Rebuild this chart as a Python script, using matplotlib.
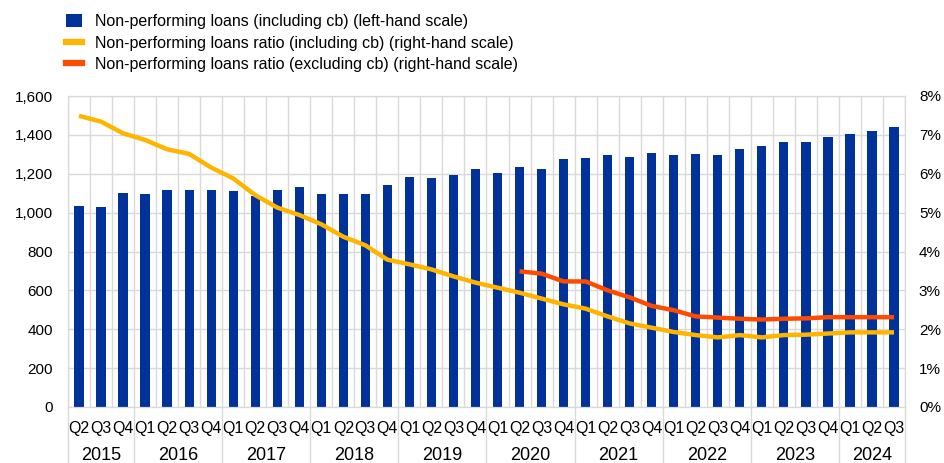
import numpy as np
import matplotlib
matplotlib.use("Agg")
import matplotlib.pyplot as plt
from matplotlib.patches import Patch
from matplotlib.lines import Line2D

plt.rcParams['font.family'] = ['Liberation Sans', 'DejaVu Sans']

years = ['2015', '2016', '2017', '2018', '2019', '2020', '2021', '2022', '2023', '2024']
quarters = ['Q2', 'Q3', 'Q4'] + ['Q1', 'Q2', 'Q3', 'Q4'] * 8 + ['Q1', 'Q2', 'Q3']

# NPLs in EUR bn (left-hand scale)
npl = [1033, 1027, 1102,
       1095, 1116, 1116, 1116,
       1109, 1085, 1116, 1130,
       1095, 1095, 1095, 1143,
       1185, 1178, 1191, 1226,
       1205, 1233, 1226, 1274,
       1281, 1294, 1288, 1308,
       1294, 1301, 1294, 1329,
       1342, 1363, 1363, 1391,
       1404, 1418, 1439]

# NPL ratio including cb (%)
ratio_incl = [7.49, 7.34, 7.04,
              6.87, 6.63, 6.51, 6.16,
              5.88, 5.45, 5.13, 4.94,
              4.70, 4.38, 4.16, 3.79,
              3.67, 3.54, 3.36, 3.20,
              3.07, 2.94, 2.79, 2.64,
              2.53, 2.33, 2.15, 2.04,
              1.93, 1.85, 1.79, 1.85,
              1.79, 1.85, 1.86, 1.89,
              1.92, 1.92, 1.92]

# NPL ratio excluding cb (%) - starts 2020 Q2
ratio_excl = [np.nan] * 20 + [3.49, 3.43, 3.23,
              3.23, 3.00, 2.82, 2.60,
              2.49, 2.33, 2.30, 2.27,
              2.25, 2.27, 2.28, 2.31,
              2.31, 2.31, 2.31]

labels = ['Non-performing loans (including cb) (left-hand scale)',
          'Non-performing loans ratio (including cb) (right-hand scale)',
          'Non-performing loans ratio (excluding cb) (right-hand scale)']

blue = '#003299'
yellow = '#FFB400'
red = '#FF4B00'
grid = '#D9D9D9'

fig = plt.figure(figsize=(9.44, 4.63), dpi=100)
ax = fig.add_axes([68/944, 56/463, 837/944, 311/463])
ax2 = ax.twinx()

x = np.arange(len(npl))
ax.bar(x, npl, width=0.42, color=blue, zorder=2)
ax2.plot(x, ratio_incl, color=yellow, lw=3.2, solid_capstyle='butt')
ax2.plot(x, ratio_excl, color=red, lw=3.2, solid_capstyle='butt')

ax.set_xlim(-0.5, len(npl) - 0.5)
ax.set_ylim(0, 1600)
ax.set_yticks(range(0, 1601, 200))
ax.set_yticklabels([f'{v:,}' for v in range(0, 1601, 200)])
ax2.set_ylim(0, 8)
ax2.set_yticks(range(0, 9))
ax2.set_yticklabels([f'{v}%' for v in range(0, 9)])

ax.set_xticks(x)
ax.set_xticklabels(quarters)
ax.set_xticks(np.arange(-0.5, len(npl), 1), minor=True)
ax.grid(True, axis='y', color=grid, lw=1, zorder=0)
ax.grid(True, axis='x', which='minor', color=grid, lw=1, zorder=0)
ax.set_axisbelow(True)

for a in (ax, ax2):
    a.tick_params(axis='both', which='both', length=0, labelsize=11, colors='black')
    for s in a.spines.values():
        s.set_color(grid)
ax.tick_params(axis='x', pad=10, labelsize=11.5)
ax.tick_params(axis='y', pad=11)
ax2.tick_params(axis='y', pad=10)

# year labels and separators
trans = ax.get_xaxis_transform()
counts = [3] + [4] * 8 + [3]
start = 0
bounds = [-0.5]
for yr, n in zip(years, counts):
    ax.text(start + (n - 1) / 2, -0.157, yr, transform=trans, ha='center', va='center', fontsize=13)
    start += n
    bounds.append(start - 0.5)
for b in bounds:
    ax.plot([b, b], [0, -0.185], transform=trans, color=grid, lw=1, clip_on=False)

handles = [Patch(facecolor=blue), Line2D([], [], color=yellow, lw=4.5),
           Line2D([], [], color=red, lw=4.5)]
fig.legend(handles, labels, loc='upper left', bbox_to_anchor=(60/944, 1 - 8/463),
           frameon=False, fontsize=11.5, handlelength=0.95, handleheight=0.85,
           handletextpad=0.85, labelspacing=0.4, borderaxespad=0)

fig.savefig('out.png', dpi=100)
